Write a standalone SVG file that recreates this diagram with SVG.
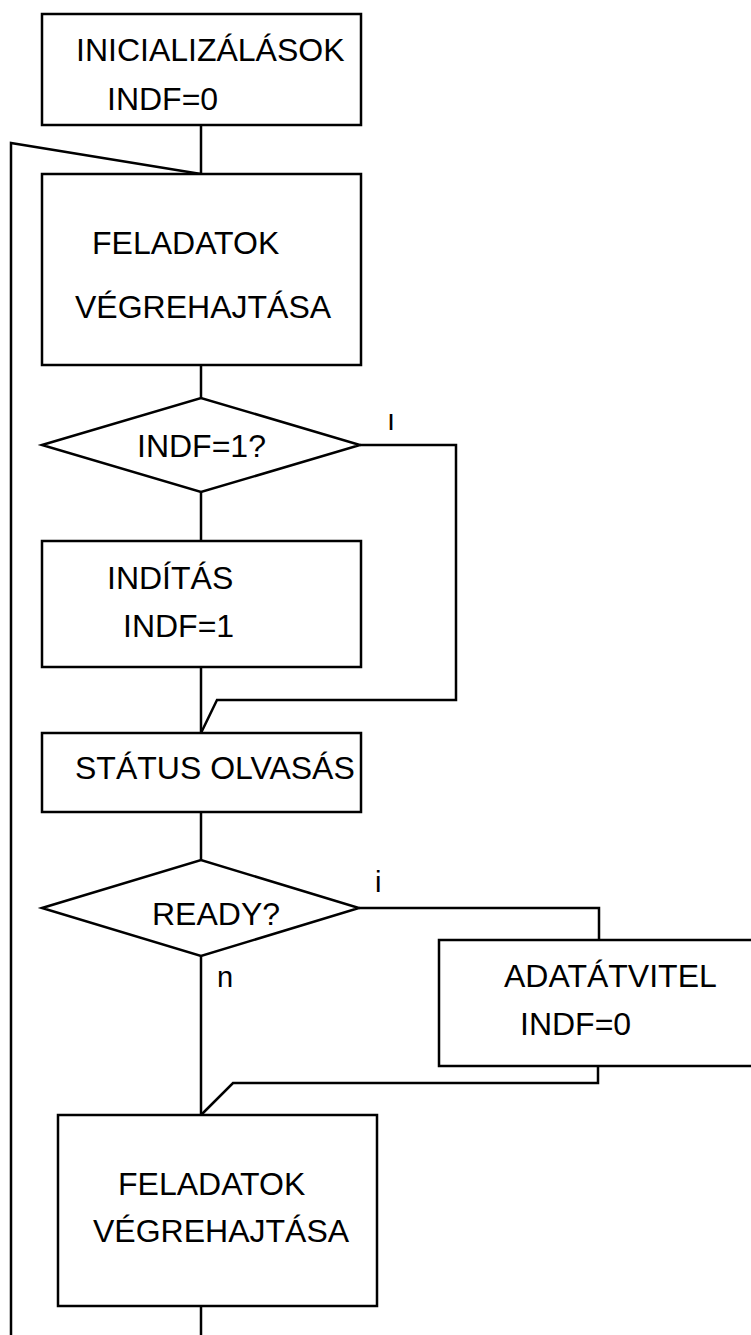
<svg xmlns="http://www.w3.org/2000/svg" width="751" height="1335" viewBox="0 0 751 1335">
  <style>
    .shape { fill: #ffffff; stroke: #000000; stroke-width: 2.5; }
    .wire { fill: none; stroke: #000000; stroke-width: 2.5; stroke-linejoin: miter; }
    text { font-family: "Liberation Sans", Arial, sans-serif; font-size: 32px; fill: #000000; }
    .lbl { font-size: 29px; }
  </style>
  <rect width="751" height="1335" fill="#ffffff"/>

  <!-- flow lines -->
  <g id="connectors">
    <line class="wire" x1="201" y1="125" x2="201" y2="174"/>
    <polyline class="wire" points="201,174 11,143 11,1335"/>
    <line class="wire" x1="201" y1="365" x2="201" y2="398"/>
    <line class="wire" x1="201" y1="492" x2="201" y2="541"/>
    <line class="wire" x1="201" y1="667" x2="201" y2="733"/>
    <polyline class="wire" points="360,445 456,445 456,700 217,700 201,733"/>
    <line class="wire" x1="201" y1="812" x2="201" y2="860"/>
    <polyline class="wire" points="359,908 599,908 599,940"/>
    <line class="wire" x1="201" y1="956" x2="201" y2="1115"/>
    <polyline class="wire" points="598,1066 598,1083 233,1083 201,1115"/>
    <line class="wire" x1="201" y1="1306" x2="201" y2="1335"/>
    <text class="lbl" x="387" y="430">ı</text>
    <text class="lbl" x="375" y="892">i</text>
    <text class="lbl" x="217" y="987">n</text>
  </g>

  <g id="init">
    <rect class="shape" x="42" y="14" width="319" height="111"/>
    <text x="76" y="61">INICIALIZÁLÁSOK</text>
    <text x="107" y="110">INDF=0</text>
  </g>

  <g id="tasks1">
    <rect class="shape" x="42" y="174" width="319" height="191"/>
    <text x="92" y="254">FELADATOK</text>
    <text x="75" y="318">VÉGREHAJTÁSA</text>
  </g>

  <g id="check-indf">
    <polygon class="shape" points="42,445 201,398 360,445 201,492"/>
    <text x="137" y="457">INDF=1?</text>
  </g>

  <g id="start">
    <rect class="shape" x="42" y="541" width="319" height="126"/>
    <text x="107" y="589">INDÍTÁS</text>
    <text x="123" y="637">INDF=1</text>
  </g>

  <g id="status-read">
    <rect class="shape" x="42" y="733" width="319" height="79"/>
    <text x="75" y="779">STÁTUS OLVASÁS</text>
  </g>

  <g id="check-ready">
    <polygon class="shape" points="42,908 201,860 359,908 201,956"/>
    <text x="152" y="925">READY?</text>
  </g>

  <g id="transfer">
    <rect class="shape" x="439" y="940" width="330" height="126"/>
    <text x="504" y="987">ADATÁTVITEL</text>
    <text x="520" y="1035">INDF=0</text>
  </g>

  <g id="tasks2">
    <rect class="shape" x="58" y="1115" width="319" height="191"/>
    <text x="118" y="1195">FELADATOK</text>
    <text x="93" y="1242">VÉGREHAJTÁSA</text>
  </g>
</svg>
